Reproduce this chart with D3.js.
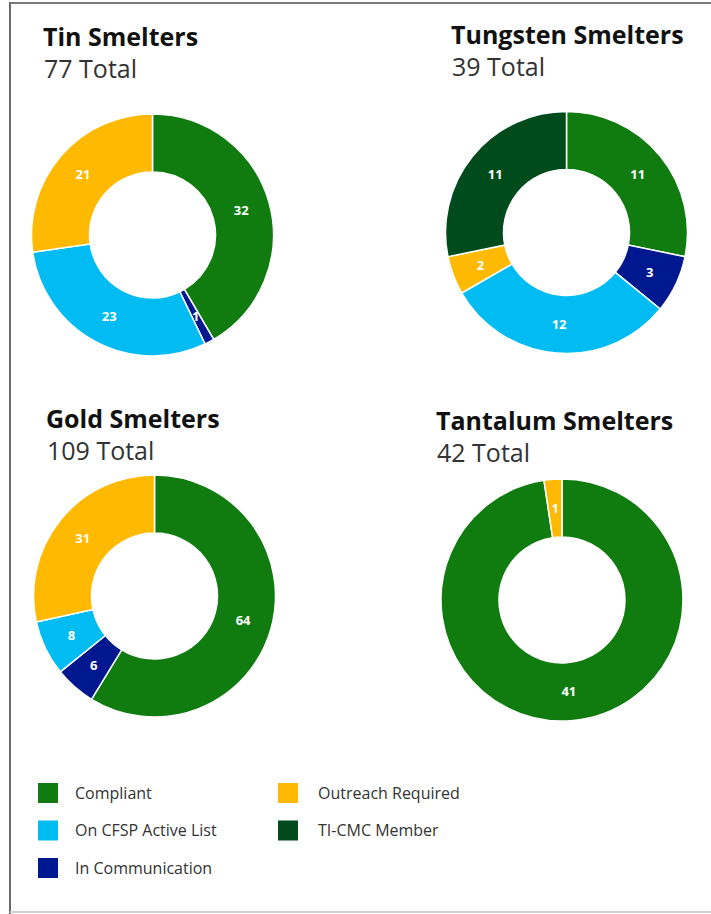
<!DOCTYPE html>
<html>
<head>
<meta charset="utf-8">
<script src="https://cdn.jsdelivr.net/npm/d3@7"></script>
<style>
  body { margin: 0; background: #fff; }
  svg { display: block; font-family: "Open Sans", sans-serif; }
</style>
</head>
<body>
<svg id="chart" width="711" height="914"></svg>
<script>
// categories in the order slices run clockwise from 12 o'clock
const categories = ["Compliant", "In Communication", "On CFSP Active List", "Outreach Required", "TI-CMC Member"];
const catColors = ["#107c10", "#00188f", "#00bcf2", "#ffb900", "#004b1c"];

const titles = ["Tin Smelters", "Tungsten Smelters", "Gold Smelters", "Tantalum Smelters"];
const tinValues = [32, 1, 23, 21, 0];
const tungstenValues = [11, 3, 12, 2, 11];
const goldValues = [64, 6, 8, 31, 0];
const tantalumValues = [41, 0, 0, 1, 0];

// legend reads row by row, two columns
const legendOrder = ["Compliant", "Outreach Required", "On CFSP Active List", "TI-CMC Member", "In Communication"];

const svg = d3.select("#chart");

const color = d3.scaleOrdinal().domain(categories).range(catColors);

// frame
svg.append("line").attr("x1", 9).attr("x2", 711).attr("y1", 3).attr("y2", 3)
  .attr("stroke", "#7a7a7a").attr("stroke-width", 2);
svg.append("line").attr("x1", 10).attr("x2", 10).attr("y1", 2).attr("y2", 914)
  .attr("stroke", "#6a6a6a").attr("stroke-width", 2);
svg.append("line").attr("x1", 10).attr("x2", 711).attr("y1", 912).attr("y2", 912)
  .attr("stroke", "#cfcfcf").attr("stroke-width", 2);

const panels = [
  { title: titles[0], values: tinValues, tx: 43, ty: 46, cx: 152.5, cy: 235 },
  { title: titles[1], values: tungstenValues, tx: 451, ty: 44, cx: 566.5, cy: 232.5 },
  { title: titles[2], values: goldValues, tx: 46, ty: 428, cx: 154.5, cy: 596 },
  { title: titles[3], values: tantalumValues, tx: 436, ty: 430, cx: 562, cy: 600 }
];

const outerR = 121;
const innerR = 63;

const pie = d3.pie().sort(null).value(d => d.value);
const arc = d3.arc().innerRadius(innerR).outerRadius(outerR);

panels.forEach(p => {
  const g = svg.append("g");
  g.append("text")
    .attr("x", p.tx).attr("y", p.ty)
    .attr("font-size", 25).attr("font-weight", 700).attr("fill", "#111")
    .text(p.title);
  g.append("text")
    .attr("x", p.tx + 1).attr("y", p.ty + 32)
    .attr("font-size", 25).attr("fill", "#333")
    .text(d3.sum(p.values) + " Total");

  const data = categories.map((c, i) => ({ cat: c, value: p.values[i] }));
  const arcs = pie(data).filter(d => d.data.value > 0);

  const donut = g.append("g").attr("transform", `translate(${p.cx},${p.cy})`);
  donut.selectAll("path")
    .data(arcs)
    .enter().append("path")
    .attr("d", arc)
    .attr("fill", d => color(d.data.cat))
    .attr("stroke", "#fff")
    .attr("stroke-width", 1.5);

  donut.selectAll("text")
    .data(arcs)
    .enter().append("text")
    .attr("transform", d => `translate(${arc.centroid(d)})`)
    .attr("text-anchor", "middle")
    .attr("dy", "0.35em")
    .attr("font-size", 13)
    .attr("font-weight", 700)
    .attr("fill", "#fff")
    .text(d => d.data.value);
});

// legend
const legend = svg.append("g");
const item = legend.selectAll("g")
  .data(legendOrder)
  .enter().append("g")
  .attr("transform", (d, i) => `translate(${i % 2 === 0 ? 38 : 278},${783 + Math.floor(i / 2) * 37.5})`);

item.append("rect")
  .attr("width", 20).attr("height", 20)
  .attr("fill", d => color(d));

item.append("text")
  .attr("x", (d, i) => i % 2 === 0 ? 37 : 40)
  .attr("y", 10)
  .attr("dy", "0.35em")
  .attr("font-size", 16)
  .attr("fill", "#333")
  .text(d => d);
</script>
</body>
</html>
